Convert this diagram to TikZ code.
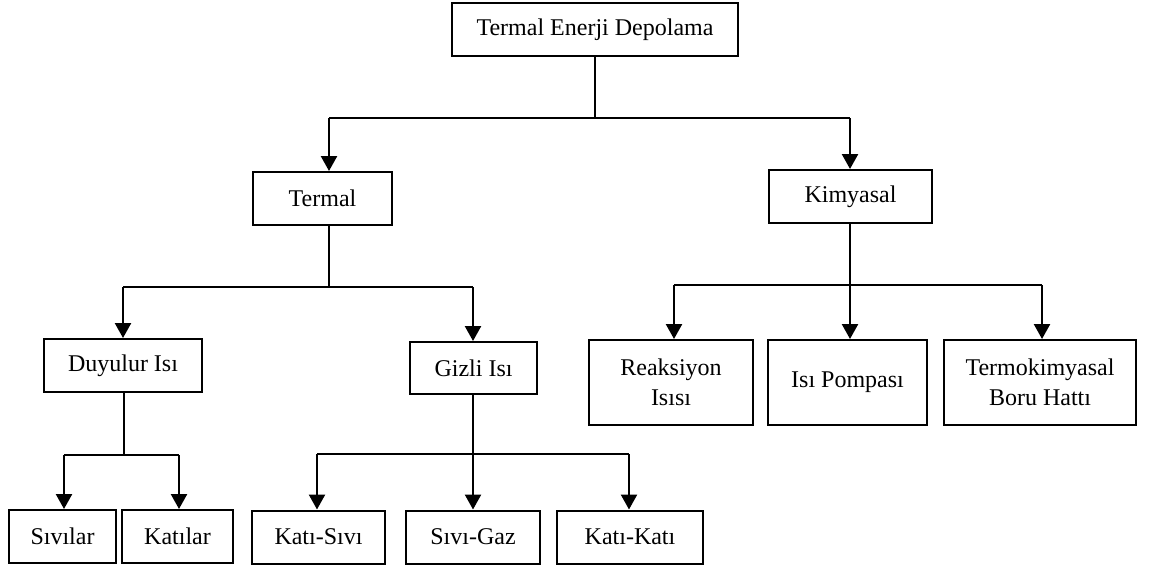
\documentclass[tikz,border=0pt]{standalone}
\usepackage{fontspec}
\setmainfont{Liberation Serif}
\usetikzlibrary{arrows.meta}
\begin{document}
\begin{tikzpicture}[x=0.5pt,y=-0.5pt,
  box/.style={draw=black,line width=1pt,fill=white,inner sep=0pt,align=center,
    font=\fontsize{12pt}{15pt}\selectfont,minimum height=26.5pt},
  thin/.style={line width=0.65pt},
  arr/.style={line width=1.2pt,-{Triangle[width=8pt,length=7.5pt]}}]
\useasboundingbox (0,0) rectangle (1150,569);
% nodes
\node[box,minimum width=143pt] (top) at (595,29.5) {Termal Enerji Depolama};
\node[box,minimum width=69.5pt] (termal) at (322.5,198.5) {Termal};
\node[box,minimum width=81.5pt] (kim) at (850.5,196.5) {Kimyasal};
\node[box,minimum width=79pt] (duy) at (123,365.5) {Duyulur Isı};
\node[box,minimum width=63.5pt,minimum height=26pt] (giz) at (473.5,368) {Gizli Isı};
\node[box,minimum width=82pt,minimum height=42.5pt] (rea) at (671,382.5) {Reaksiyon\\Isısı};
\node[box,minimum width=79.5pt,minimum height=42.5pt] (pom) at (847.5,382.5) {Isı Pompası};
\node[box,minimum width=96pt,minimum height=42.5pt] (boru) at (1040,382.5) {Termokimyasal\\Boru Hattı};
\node[box,minimum width=53.5pt] (siv) at (62.5,536.5) {Sıvılar};
\node[box,minimum width=55.5pt] (kat) at (177.5,536.5) {Katılar};
\node[box,minimum width=66.5pt] (ks) at (318.5,537) {Katı-Sıvı};
\node[box,minimum width=67pt] (sg) at (473,537) {Sıvı-Gaz};
\node[box,minimum width=73pt] (kk) at (630,537) {Katı-Katı};
% bus coordinates
\coordinate (b0) at (595,118);
\coordinate (b0l) at (329,118);
\coordinate (b0r) at (850,118);
\coordinate (b1) at (329,287);
\coordinate (b1l) at (123,287);
\coordinate (b1r) at (473,287);
\coordinate (b2) at (850,285);
\coordinate (b2l) at (674,285);
\coordinate (b2r) at (1042,285);
\coordinate (b3) at (124,455);
\coordinate (b3l) at (64,455);
\coordinate (b3r) at (179,455);
\coordinate (b4) at (473,454);
\coordinate (b4l) at (317,454);
\coordinate (b4r) at (629,454);
% connectors
\draw[thin] (top.south) -- (b0);
\draw[thin] (b0l) -- (b0r);
\draw[arr] (b0l) -- (b0l |- termal.north);
\draw[arr] (b0r) -- (b0r |- kim.north);
\draw[thin] (b1 |- termal.south) -- (b1);
\draw[thin] (b1l) -- (b1r);
\draw[arr] (b1l) -- (b1l |- duy.north);
\draw[arr] (b1r) -- (b1r |- giz.north);
\draw[thin] (b2 |- kim.south) -- (b2);
\draw[thin] (b2l) -- (b2r);
\draw[arr] (b2l) -- (b2l |- rea.north);
\draw[arr] (b2) -- (b2 |- pom.north);
\draw[arr] (b2r) -- (b2r |- boru.north);
\draw[thin] (b3 |- duy.south) -- (b3);
\draw[thin] (b3l) -- (b3r);
\draw[arr] (b3l) -- (b3l |- siv.north);
\draw[arr] (b3r) -- (b3r |- kat.north);
\draw[thin] (b4 |- giz.south) -- (b4);
\draw[thin] (b4l) -- (b4r);
\draw[arr] (b4l) -- (b4l |- ks.north);
\draw[arr] (b4) -- (b4 |- sg.north);
\draw[arr] (b4r) -- (b4r |- kk.north);
\end{tikzpicture}
\end{document}
